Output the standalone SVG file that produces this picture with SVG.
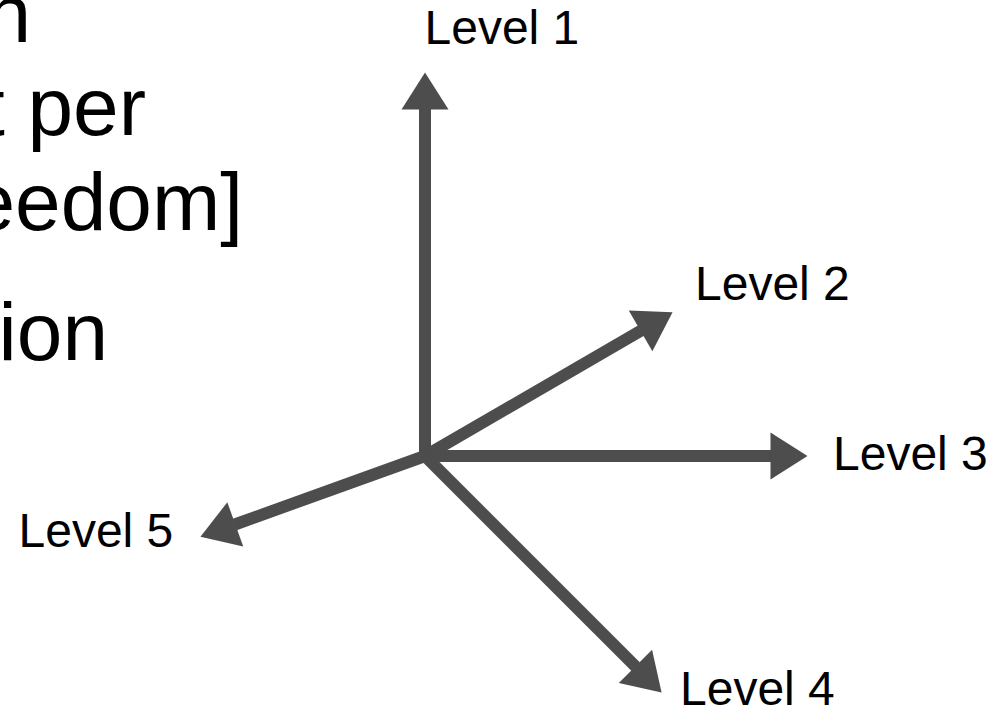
<svg xmlns="http://www.w3.org/2000/svg" width="1006" height="714" viewBox="0 0 1006 714">
<style>
.big{font-family:"Liberation Sans",Arial,sans-serif;font-size:82px;fill:#000}
.lbl{font-family:"Liberation Sans",Arial,sans-serif;font-size:48px;fill:#000}
.ax{stroke:#4d4d4d;stroke-width:12;fill:none;marker-end:url(#ah)}
</style>
<defs>
<marker id="ah" markerUnits="userSpaceOnUse" markerWidth="38" markerHeight="48" refX="0.5" refY="23.5" orient="auto" overflow="visible">
<path d="M0,0 L37,23.5 L0,47 Z" fill="#4d4d4d"/>
</marker>
</defs>
<rect width="1006" height="714" fill="#fff"/>
<g id="bodytext">
<text class="big" x="31" y="42" text-anchor="end">n</text>
<text class="big" x="146" y="135" text-anchor="end">t per</text>
<text class="big" x="243" y="230" text-anchor="end">eedom]</text>
<text class="big" x="108" y="360" text-anchor="end">ion</text>
</g>
<g id="connectors">
<line class="ax" x1="425" y1="462" x2="425" y2="109"/>
<line class="ax" x1="425" y1="456" x2="641" y2="330.6"/>
<line class="ax" x1="425" y1="456" x2="771" y2="456"/>
<line class="ax" x1="425" y1="456" x2="635.8" y2="666.8"/>
<line class="ax" x1="425" y1="456" x2="234.8" y2="524.5"/>
</g>
<g id="level1"><text class="lbl" x="424.5" y="44">Level 1</text></g>
<g id="level2"><text class="lbl" x="695" y="300">Level 2</text></g>
<g id="level3"><text class="lbl" x="833" y="470">Level 3</text></g>
<g id="level4"><text class="lbl" x="680" y="705">Level 4</text></g>
<g id="level5"><text class="lbl" x="18.5" y="547">Level 5</text></g>
</svg>
